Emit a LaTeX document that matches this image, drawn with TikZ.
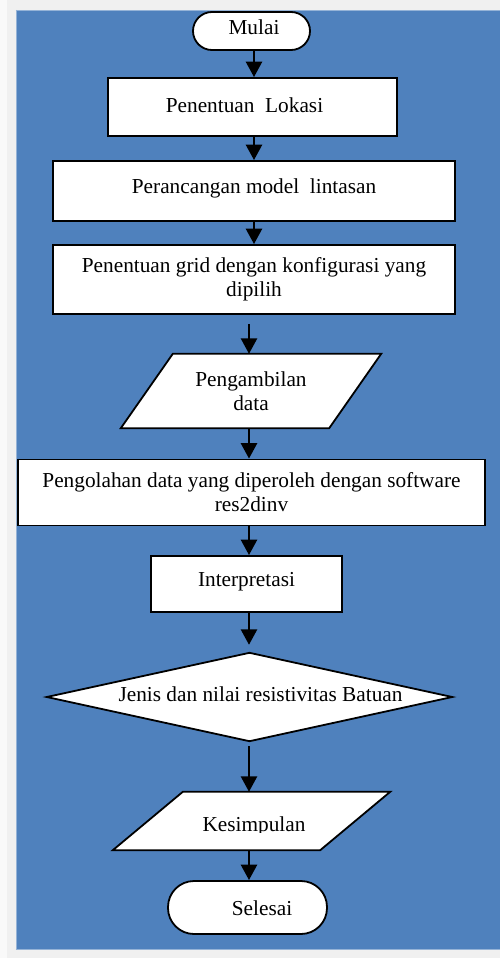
\documentclass[tikz,border=0pt]{standalone}
\usepackage{fontspec}
\setmainfont{Liberation Serif}
\usetikzlibrary{arrows.meta}
\pgfdeclarelayer{bg}
\pgfdeclarelayer{shp}
\pgfsetlayers{bg,shp,main}
\definecolor{pagegray}{HTML}{F0F0F0}
\definecolor{paneblue}{HTML}{4F81BD}
\definecolor{paneedge}{HTML}{95B3D7}
\tikzset{
  txt/.style={font=\fontsize{21.3}{24}\selectfont, inner sep=0pt, align=center},
  boxshape/.style={txt, draw=black, fill=white, line width=1.8pt},
  pill/.style={boxshape, rounded corners=#1},
  free/.style={txt, draw=none},
  outline/.style={draw=black, fill=white, line width=1.8pt, line join=miter},
  arr/.style={line width=2.7pt, -{Triangle[width=16pt,length=15.5pt]}}
}
\begin{document}
\begin{tikzpicture}[x=1pt,y=-1pt]
\useasboundingbox (0,0) rectangle (500,958);
\begin{pgfonlayer}{bg}
  \fill[pagegray] (0,0) rectangle (500,958);
  \fill[white!60!pagegray] (0,0) rectangle (7,958);
  \fill[paneblue] (15.5,10) rectangle (500,950);
  \draw[paneedge, line width=0.8pt] (15.5,10.4) -- (500,10.4);
  \draw[paneedge, line width=0.8pt] (15.5,949.6) -- (500,949.6);
  \draw[paneedge, line width=0.8pt] (15.9,10) -- (15.9,950);
\end{pgfonlayer}

\node[pill=19pt, minimum width=117pt, minimum height=38pt, text height=14pt, text depth=6pt] (mulai) at (251.5,31) {\hspace*{5pt}Mulai};
\node[boxshape, minimum width=289pt, minimum height=58pt, text height=15pt, text depth=5pt] (lokasi) at (252.5,107) {Penentuan\ \ Lokasi\hspace*{16pt}};
\node[boxshape, minimum width=402pt, minimum height=60pt, text height=12pt, text depth=8pt] (rancang) at (254,191) {Perancangan model\ \ lintasan};
\node[boxshape, minimum width=402pt, minimum height=69pt] (grid) at (254,279.5) {Penentuan grid dengan konfigurasi yang\\dipilih};
\node[free, minimum width=260pt, minimum height=74pt] (ambil) at (251,391) {Pengambilan\\data};
\node[boxshape, minimum width=467pt, minimum height=66pt] (olah) at (251.5,492.5) {Pengolahan data yang diperoleh dengan software\\res2dinv};
\node[boxshape, minimum width=191pt, minimum height=56pt, text height=12pt, text depth=8pt] (interp) at (246.5,584) {Interpretasi};
\node[free, minimum width=405pt, minimum height=88pt, text height=14pt, text depth=6pt] (jenis) at (249.5,697) {\hspace*{22pt}Jenis dan nilai resistivitas Batuan};
\begin{scope}
  \clip (0,0) rectangle (500,832.5);
  \node[free, minimum width=277pt, minimum height=58pt, text height=20pt, text depth=0pt] (kesim) at (251.5,821) {\hspace*{5pt}Kesimpulan};
\end{scope}
\node[pill=26pt, minimum width=159pt, minimum height=53pt, text height=17.5pt, text depth=2.5pt] (selesai) at (247.5,907.5) {\hspace*{29pt}Selesai};

\begin{pgfonlayer}{shp}
  \draw[outline] ([xshift=52pt]ambil.north west) -- (ambil.north east) -- ([xshift=-52pt]ambil.south east) -- (ambil.south west) -- cycle;
  \draw[outline] (jenis.north) -- (jenis.east) -- (jenis.south) -- (jenis.west) -- cycle;
  \draw[outline] ([xshift=70pt]kesim.north west) -- (kesim.north east) -- ([xshift=-70pt]kesim.south east) -- (kesim.south west) -- cycle;
\end{pgfonlayer}

\draw[arr] (mulai.south -| 254,0) -- (lokasi.north -| 254,0);
\draw[arr] (lokasi.south -| 254,0) -- (rancang.north -| 254,0);
\draw[arr] (rancang.south -| 254,0) -- (grid.north -| 254,0);
\draw[arr, shorten <=9pt] (grid.south -| 249,0) -- (ambil.north -| 249,0);
\draw[arr] (ambil.south -| 249,0) -- (olah.north -| 249,0);
\draw[arr] (olah.south -| 249,0) -- (interp.north -| 249,0);
\draw[arr, shorten >=8pt] (interp.south -| 249,0) -- (jenis.north -| 249,0);
\draw[arr, shorten <=5pt] (jenis.south -| 249,0) -- (kesim.north -| 249,0);
\draw[arr] (kesim.south -| 249,0) -- (selesai.north -| 249,0);
\end{tikzpicture}
\end{document}
